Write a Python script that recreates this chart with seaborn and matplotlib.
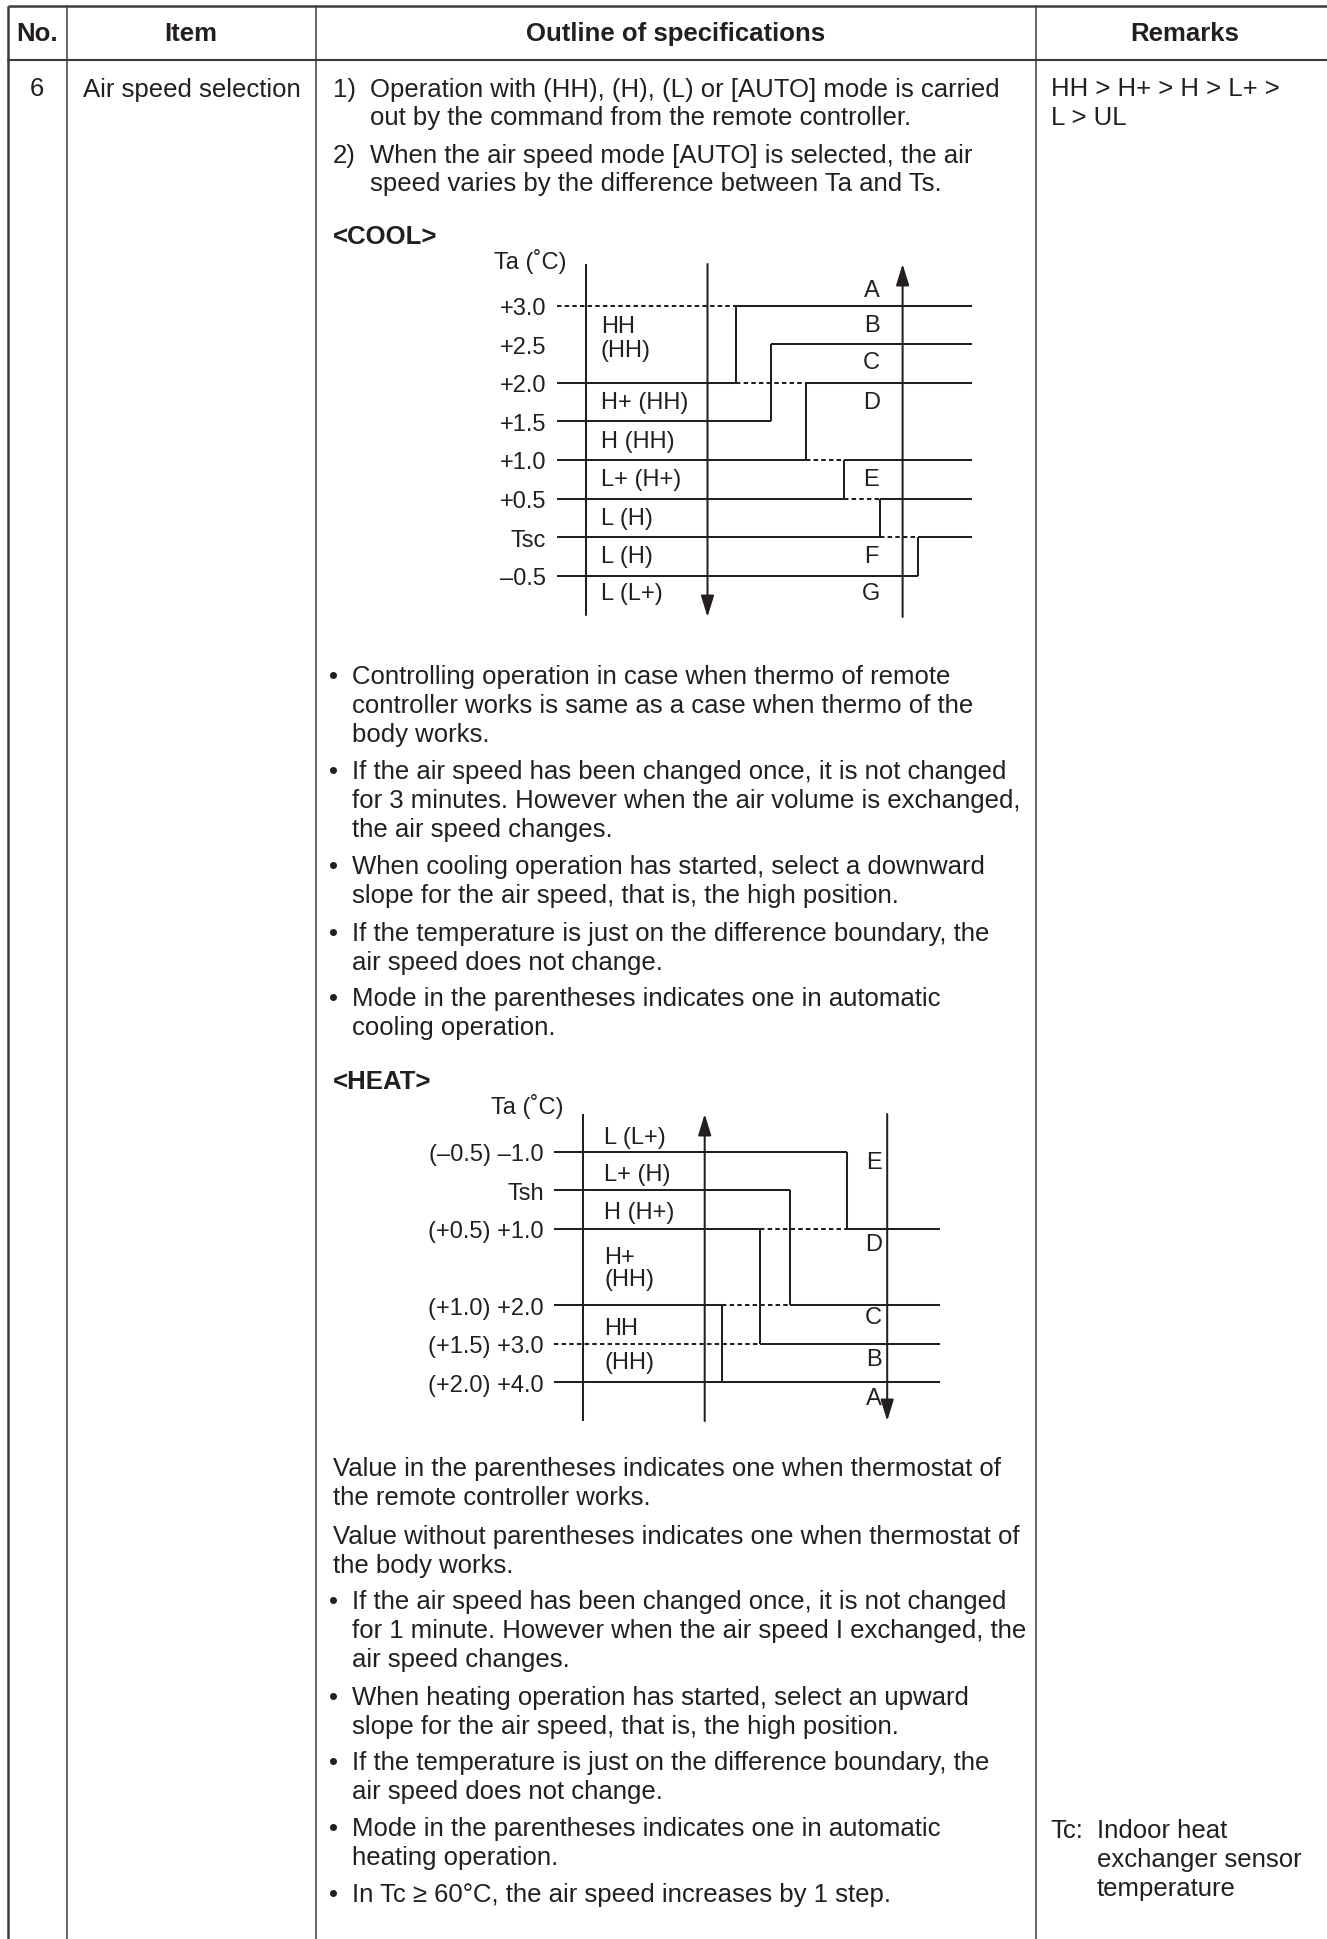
import matplotlib
matplotlib.use('Agg')
import matplotlib.pyplot as plt
import seaborn as sns

# --- Data: COOL diagram (Ta - Ts thresholds, degC) ---
cool_levels = [3.0, 2.5, 2.0, 1.5, 1.0, 0.5, 0.0, -0.5]
cool_level_labels = ['+3.0', '+2.5', '+2.0', '+1.5', '+1.0', '+0.5', 'Tsc', '\u20130.5']
# each boundary between zones A/B ... F/G: level of the left branch, level of the right branch
cool_left = [2.0, 1.5, 1.0, 0.5, 0.0, -0.5]
cool_right = [3.0, 2.5, 2.0, 1.0, 0.5, 0.0]
cool_modes = ['HH', '(HH)', 'H+ (HH)', 'H (HH)', 'L+ (H+)', 'L (H)', 'L (H)', 'L (L+)']
cool_mode_y = [2.74, 2.42, 1.75, 1.25, 0.75, 0.25, -0.25, -0.72]
cool_zones = ['A', 'B', 'C', 'D', 'E', 'F', 'G']
cool_zone_y = [3.2, 2.75, 2.27, 1.75, 0.75, -0.25, -0.72]
cool_lead = {3.0: 'dashed'}

# --- Data: HEAT diagram (schematic rows) ---
heat_level_labels = ['(\u20130.5) \u20131.0', 'Tsh', '(+0.5) +1.0', '(+1.0) +2.0', '(+1.5) +3.0', '(+2.0) +4.0']
heat_rows = [0, 1, 2, 4, 5, 6]
heat_left = [0, 1, 2, 4]
heat_right = [2, 4, 5, 6]
heat_modes = ['L (L+)', 'L+ (H)', 'H (H+)', 'H+', '(HH)', 'HH', '(HH)']
heat_mode_y = [-0.37, 0.58, 1.58, 2.75, 3.31, 4.58, 5.47]
heat_zones = ['E', 'D', 'C', 'B', 'A']
heat_zone_y = [0.28, 2.4, 4.3, 5.4, 6.4]
heat_lead = {5: 'dashed', 6: 'solid'}

# --- Text ---
headers = ['No.', 'Item', 'Outline of specifications', 'Remarks']
intro = [
    ('1)', ['Operation with (HH), (H), (L) or [AUTO] mode is carried',
            'out by the command from the remote controller.']),
    ('2)', ['When the air speed mode [AUTO] is selected, the air',
            'speed varies by the difference between Ta and Ts.']),
]
cool_notes = [
    ['Controlling operation in case when thermo of remote',
     'controller works is same as a case when thermo of the',
     'body works.'],
    ['If the air speed has been changed once, it is not changed',
     'for 3 minutes. However when the air volume is exchanged,',
     'the air speed changes.'],
    ['When cooling operation has started, select a downward',
     'slope for the air speed, that is, the high position.'],
    ['If the temperature is just on the difference boundary, the',
     'air speed does not change.'],
    ['Mode in the parentheses indicates one in automatic',
     'cooling operation.'],
]
heat_plain = [
    ['Value in the parentheses indicates one when thermostat of',
     'the remote controller works.'],
    ['Value without parentheses indicates one when thermostat of',
     'the body works.'],
]
heat_notes = [
    ['If the air speed has been changed once, it is not changed',
     'for 1 minute. However when the air speed I exchanged, the',
     'air speed changes.'],
    ['When heating operation has started, select an upward',
     'slope for the air speed, that is, the high position.'],
    ['If the temperature is just on the difference boundary, the',
     'air speed does not change.'],
    ['Mode in the parentheses indicates one in automatic',
     'heating operation.'],
    ['In Tc \u2265 60\u00b0C, the air speed increases by 1 step.'],
]
remark_top = ['HH > H+ > H > L+ >', 'L > UL']
remark_tc = ['Indoor heat', 'exchanger sensor', 'temperature']

# --- Style / layout ---
sns.set_theme(style='white')
plt.rcParams['font.family'] = ['Liberation Sans', 'DejaVu Sans']
INK = '#231f20'
RULE = '#3c3c3c'
FS = 18.5
FS_D = 17
LH = 28.8
W, H = 1327, 1940

fig = plt.figure(figsize=(W / 100, H / 100), dpi=100)
page = fig.add_axes([0, 0, 1, 1])
page.set_xlim(0, W)
page.set_ylim(H, 0)
page.axis('off')


def put(x, y, s, **kw):
    kw.setdefault('fontsize', FS)
    kw.setdefault('color', INK)
    kw.setdefault('va', 'center')
    page.text(x, y, s, **kw)


def lines_at(x, y, rows):
    for i, r in enumerate(rows):
        put(x, y + i * LH, r)


# table rules
page.plot([8, 8], [7, H], color=RULE, lw=1.8, solid_capstyle='butt')
page.plot([8, W], [7, 7], color=RULE, lw=1.8, solid_capstyle='butt')
page.plot([8, W], [60.7, 60.7], color=RULE, lw=1.5)
for cx in [66.7, 315.7, 1035.7]:
    page.plot([cx, cx], [7, H], color=RULE, lw=1.1)

# header
for hx, txt in zip([37.5, 191, 676, 1185], headers):
    put(hx, 34, txt, ha='center', fontweight='bold')

put(36.7, 89.5, '6', ha='center')
put(82.7, 89.5, 'Air speed selection')

for (num, rows), y0 in zip(intro, [89.5, 155.5]):
    put(333, y0, num)
    lines_at(370, y0, rows)

put(333, 237, '<COOL>', fontweight='bold')
put(530, 261.7, 'Ta (\u02daC)', ha='center', fontsize=FS_D)

for rows, y0 in zip(cool_notes, [677.5, 772.5, 867.5, 934, 999]):
    put(329, y0, '\u2022')
    lines_at(351.5, y0, rows)

put(333, 1082, '<HEAT>', fontweight='bold')
put(527, 1106.7, 'Ta (\u02daC)', ha='center', fontsize=FS_D)

for rows, y0 in zip(heat_plain, [1469, 1537]):
    lines_at(332.7, y0, rows)
for rows, y0 in zip(heat_notes, [1602, 1698.5, 1763.5, 1829, 1895.5]):
    put(329, y0, '\u2022')
    lines_at(351.5, y0, rows)

lines_at(1050.7, 89.5, remark_top)
put(1050.7, 1831, 'Tc:')
lines_at(1096.7, 1831, remark_tc)


# --- diagrams ---
def px_axes(x0, y0, x1, y1):
    ax = fig.add_axes([x0 / W, 1 - y1 / H, (x1 - x0) / W, (y1 - y0) / H])
    ax.set_facecolor('none')
    sns.despine(ax=ax, left=True, bottom=True)
    ax.set_xlim(x0, x1)
    ax.set_xticks([])
    ax.grid(False)
    return ax


def seg(ax, xs, ys, dashed=False):
    ax.plot(xs, ys, color=INK, lw=1.45,
            ls=(0, (2.2, 1.6)) if dashed else '-',
            solid_capstyle='butt', dash_capstyle='butt')


def draw_steps(ax, levels, left_lv, right_lv, step_x, x0, x1, lead):
    for lv in levels:
        xl = [sx for sx, l in zip(step_x, left_lv) if l == lv]
        xr = [sx for sx, r in zip(step_x, right_lv) if r == lv]
        if xl:
            seg(ax, [x0, xl[0]], [lv, lv])
        if xr:
            seg(ax, [xr[0], x1], [lv, lv])
            if xl:
                seg(ax, [xl[0], xr[0]], [lv, lv], dashed=True)
            elif lv in lead:
                seg(ax, [x0, xr[0]], [lv, lv], dashed=(lead[lv] == 'dashed'))
    for sx, l, r in zip(step_x, left_lv, right_lv):
        seg(ax, [sx, sx], [l, r])


def arrow(ax, x, up):
    a, b = (0, 1) if up else (1, 0)
    ax.annotate('', xy=(x, b), xytext=(x, a),
                xycoords=('data', 'axes fraction'), textcoords=('data', 'axes fraction'),
                arrowprops=dict(arrowstyle='-|>,head_length=0.65,head_width=0.2',
                                color=INK, lw=1.45, mutation_scale=20,
                                shrinkA=0, shrinkB=0))


# COOL
cx0, cx1 = 556.6, 972
cool = px_axes(cx0, 265, cx1, 618)
cool.set_ylim(-1.0354, 3.5406)
cool.set_yticks(cool_levels, labels=cool_level_labels)
cool.tick_params(axis='y', length=0, pad=7.4, labelsize=FS_D, labelcolor=INK)
cool.axvline(586.5, 0.0065, 1, color=INK, lw=1.45)
arrow(cool, 707.5, up=False)
arrow(cool, 902.6, up=True)
cool_step_x = [736.5, 771.0, 805.7, 843.6, 880.3, 918.2]
draw_steps(cool, cool_levels, cool_left, cool_right, cool_step_x, cx0, cx1, cool_lead)
for txt, y in zip(cool_modes, cool_mode_y):
    cool.text(601, y, txt, va='center', ha='left', fontsize=FS_D, color=INK)
for txt, y in zip(cool_zones, cool_zone_y):
    cool.text(871.5, y, txt, va='center', ha='center', fontsize=FS_D, color=INK)

# HEAT
hx0, hx1 = 554, 940
heat = px_axes(hx0, 1115, hx1, 1422)
heat.set_ylim(7.007, -0.981)
heat.set_yticks(heat_rows, labels=heat_level_labels)
heat.tick_params(axis='y', length=0, pad=7.2, labelsize=FS_D, labelcolor=INK)
heat.axvline(583.3, 0, 1, color=INK, lw=1.45)
arrow(heat, 704.7, up=True)
arrow(heat, 887.2, up=False)
heat_step_x = [846.5, 789.7, 759.5, 722.2]
draw_steps(heat, heat_rows, heat_left, heat_right, heat_step_x, hx0, hx1, heat_lead)
for txt, y in zip(heat_modes, heat_mode_y):
    heat.text(604, y, txt, va='center', ha='left', fontsize=FS_D, color=INK)
for txt, y in zip(heat_zones, heat_zone_y):
    heat.text(873.5, y, txt, va='center', ha='center', fontsize=FS_D, color=INK)

fig.savefig('out.png', dpi=100, facecolor='white')
